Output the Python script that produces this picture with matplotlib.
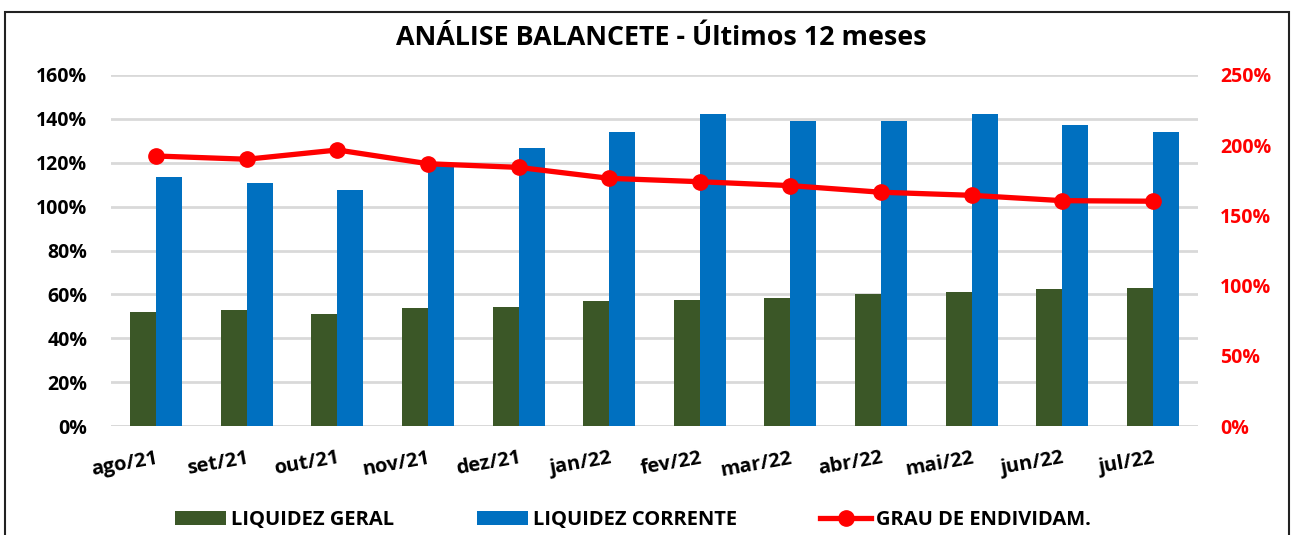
import matplotlib.pyplot as plt
import numpy as np
from matplotlib.patches import Rectangle
from matplotlib.ticker import FuncFormatter

months = ['ago/21', 'set/21', 'out/21', 'nov/21', 'dez/21', 'jan/22',
          'fev/22', 'mar/22', 'abr/22', 'mai/22', 'jun/22', 'jul/22']
liq_geral = [52.1, 52.9, 50.9, 53.6, 54.4, 56.8, 57.4, 58.5, 60.2, 60.9, 62.4, 62.7]
liq_corrente = [113.6, 110.8, 107.6, 118.5, 126.6, 134.1, 142.3, 139.0, 139.2, 142.1, 137.2, 134.0]
grau_endiv = [192.3, 190.0, 196.6, 186.8, 184.2, 176.4, 174.0, 171.2, 166.5, 164.3, 160.5, 160.1]

plt.rcParams.update({
	'font.family': 'Open Sans',
	'font.weight': 'bold',
})

green = '#3B5727'
blue = '#0070C0'
red = '#FF0000'

fig = plt.figure(figsize=(12.95, 5.35), dpi=100)
# outer chart border (bottom is cut off in the original)
fig.patches.append(Rectangle((5 / 1295, -0.1), 1284 / 1295, 1.1 - 12 / 535,
                             transform=fig.transFigure, fill=False,
                             edgecolor='#222222', lw=1.5))

ax = fig.add_axes([111 / 1295, 1 - 426 / 535, 1087 / 1295, 351 / 535])
x = np.arange(len(months))
w = 0.287
ax.bar(x - w / 2, liq_geral, width=w, color=green, label='LIQUIDEZ GERAL', zorder=3)
ax.bar(x + w / 2, liq_corrente, width=w, color=blue, label='LIQUIDEZ CORRENTE', zorder=3)
ax.set_xlim(-0.5, len(months) - 0.5)
ax.set_ylim(0, 160)
ax.set_yticks(np.arange(0, 161, 20))
ax.yaxis.set_major_formatter(FuncFormatter(lambda v, p: f'{v:.0f}%'))
ax.grid(axis='y', color='#D9D9D9', lw=2, zorder=0)
for s in ['top', 'right', 'left', 'bottom']:
	ax.spines[s].set_visible(False)
ax.axhline(0, color='#D9D9D9', lw=2, zorder=1)
ax.tick_params(axis='both', length=0, labelsize=14)
ax.tick_params(axis='y', pad=17)
ax.set_xticks(x)
ax.set_xticklabels(months, rotation=10, ha='right', va='top',
                   rotation_mode='anchor', fontsize=14.5)
ax.tick_params(axis='x', pad=16)

ax2 = ax.twinx()
ax2.plot(x, grau_endiv, color=red, lw=3.8, marker='o', markersize=11,
         label='GRAU DE ENDIVIDAM.', zorder=4)
ax2.set_ylim(0, 250)
ax2.set_yticks(np.arange(0, 251, 50))
ax2.yaxis.set_major_formatter(FuncFormatter(lambda v, p: f'{v:.0f}%'))
for s in ['top', 'right', 'left', 'bottom']:
	ax2.spines[s].set_visible(False)
ax2.tick_params(axis='y', length=0, labelsize=14, labelcolor=red, pad=16)

fig.text(661 / 1295, 1 - 38 / 535, 'ANÁLISE BALANCETE - Últimos 12 meses',
         ha='center', va='center', fontsize=19.4, fontweight='bold')

h1, l1 = ax.get_legend_handles_labels()
h2, l2 = ax2.get_legend_handles_labels()
fig.legend(h1 + h2, l1 + l2, loc='center', ncol=3,
           bbox_to_anchor=(633 / 1295, 1 - 520 / 535), frameon=False,
           fontsize=14.5, handlelength=2.55, handleheight=0.7,
           columnspacing=4.1, handletextpad=0.25)

plt.savefig('out.png', dpi=100)
